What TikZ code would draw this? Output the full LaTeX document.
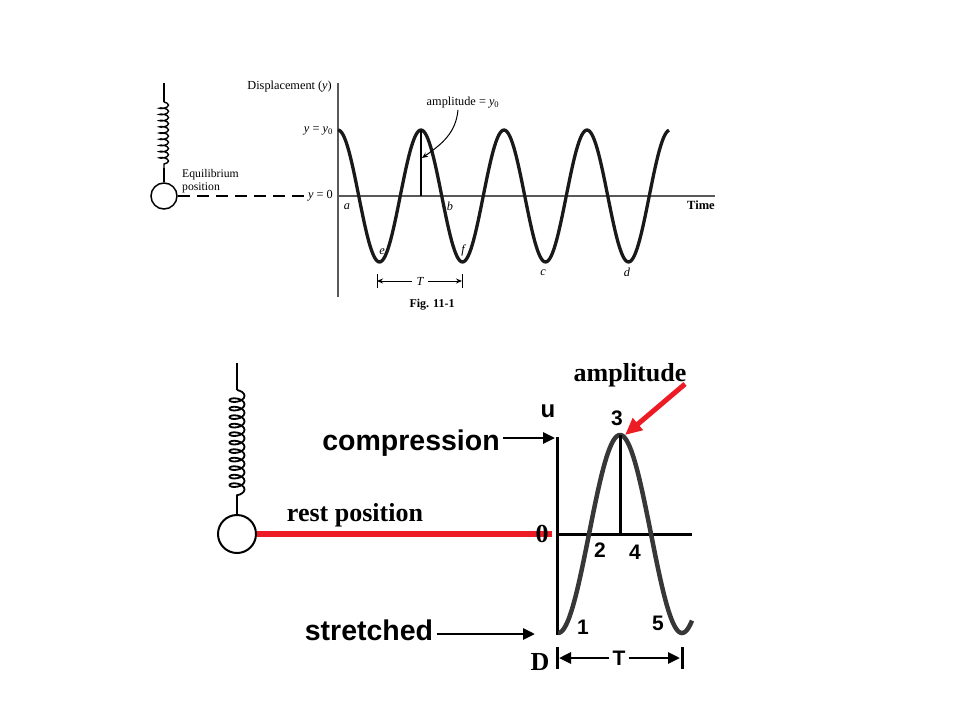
\documentclass[tikz,border=0pt]{standalone}
\usepackage{fontspec}
\setmainfont{Liberation Serif}
\setsansfont{Liberation Sans}
\usetikzlibrary{arrows.meta,decorations.pathmorphing}
\definecolor{restred}{RGB}{237,28,36}
\definecolor{wavegray}{RGB}{55,55,55}
\tikzset{
  smalltext/.style={font=\fontsize{12.3}{13}\selectfont, inner sep=1pt},
  smallit/.style={font=\fontsize{12.3}{13}\selectfont\itshape, inner sep=1pt},
  smallbold/.style={font=\fontsize{12.5}{14}\selectfont\bfseries, inner sep=1pt},
  bigsans/.style={font=\fontsize{28.5}{32}\selectfont\sffamily\bfseries},
  numsans/.style={font=\fontsize{21}{24}\selectfont\sffamily\bfseries, inner sep=1pt},
  bigserif/.style={font=\fontsize{26}{30}\selectfont\bfseries, inner sep=1pt},
  blackarrow/.style={line width=2.8pt, -{Triangle[length=12pt,width=11pt]}},
  thinarrow/.style={line width=1pt, -{Stealth[length=6pt,width=5pt]}},
}
\begin{document}
\begin{tikzpicture}[x=1pt,y=-1pt]
    \useasboundingbox (0,0) rectangle (960,720);

    % upper figure
    \node[circle, draw, line width=1.5pt, minimum size=26pt, inner sep=0pt] (mass1) at (164,196) {};
    \coordinate (hook1) at (164,83);
    \coordinate (coil1a) at (164,102);
    \coordinate (coil1b) at (164,168);
    \draw[line width=1.5pt] (hook1) -- (coil1a);
    \draw[line width=1.4pt, decorate, decoration={coil, aspect=0.35, segment length=6.2pt, amplitude=4.5pt}] (coil1a) -- (coil1b);
    \draw[line width=1.5pt] (coil1b) -- (mass1.north);

    \node[smalltext, font=\fontsize{11.7}{12.5}\selectfont, anchor=west, align=left] (equil) at (181,181) {Equilibrium\\position};
    \node[smalltext, anchor=east] (disp) at (333,87) {Displacement (\textit{y})};
    \node[smalltext, anchor=east] (ytop) at (334,131) {\textit{y} = \textit{y}\textsubscript{0}};
    \node[smalltext, anchor=east, inner sep=3pt] (yzero) at (336,196) {\textit{y} = 0};
    \draw[line width=1.3pt, dash pattern=on 12pt off 7pt] (mass1.east) -- (yzero.west);

    \coordinate (o1) at (338,196);
    \coordinate (ytop1) at (338,83);
    \coordinate (ybot1) at (338,297);
    \coordinate (tend1) at (715,196);
    \draw[line width=1.6pt, black!65] (ytop1) -- (ybot1);
    \draw[line width=1.6pt, black!65] (o1) -- (tend1);
    \node[smallbold] (time) at (701,205) {Time};

    \draw[line width=3.3pt, black!90] plot[domain=338:669, samples=240] (\x,{196-66*cos(4.3373*(\x-338))});

    \coordinate (peak1) at (421,130);
    \coordinate (foot1) at (421,196);
    \draw[line width=1.3pt] (foot1) -- (peak1);
    \node[smalltext] (amp1) at (463,103) {amplitude = \textit{y}\textsubscript{0}};
    \coordinate (amptip1) at (422,158);
    \draw[thinarrow] ([xshift=-5pt]amp1.south) to[out=-95,in=35] (amptip1);

    \node[smallit] (pa) at (347,207) {a};
    \node[smallit] (pb) at (450,206) {b};
    \node[smallit] (pe) at (382,252) {e};
    \node[smallit] (pf) at (463,250) {f};
    \node[smallit] (pc) at (543,273) {c};
    \node[smallit] (pd) at (627,272) {d};

    \coordinate (T1l) at (377,281);
    \coordinate (T1r) at (462,281);
    \draw[line width=1pt] ([yshift=-7pt]T1l) -- ([yshift=7pt]T1l);
    \draw[line width=1pt] ([yshift=-7pt]T1r) -- ([yshift=7pt]T1r);
    \node[smallit, inner sep=4pt] (T1) at (420,281) {T};
    \draw[thinarrow] (T1) -- (T1l);
    \draw[thinarrow] (T1) -- (T1r);
    \node[smallbold, font=\fontsize{12}{14}\selectfont\bfseries] (fig) at (432,305) {Fig. 11-1};

    % lower figure
    \node[circle, draw, line width=2pt, minimum size=38pt, inner sep=0pt] (mass2) at (237,534) {};
    \coordinate (hook2) at (237,363);
    \coordinate (coil2a) at (237,390);
    \coordinate (coil2b) at (237,497);
    \draw[line width=2pt] (hook2) -- (coil2a);
    \draw[line width=1.8pt, decorate, decoration={coil, aspect=0.5, segment length=8.5pt, amplitude=7.5pt}] (coil2a) -- (coil2b);
    \draw[line width=2pt] (coil2b) -- (mass2.north);

    \coordinate (restend) at (552,534);
    \draw[restred, line width=5.5pt] (mass2.east) -- (restend);
    \node[bigserif] (rest) at (355,515) {rest position};
    \node[bigserif] (zero) at (542,534) {0};

    \coordinate (o2) at (557,534);
    \coordinate (utop) at (557,437);
    \coordinate (ubot) at (557,635);
    \coordinate (tend2) at (692,534);
    \draw[line width=3pt] (utop) -- (ubot);
    \draw[line width=3pt] (o2) -- (tend2);

    \draw[wavegray, line width=4.5pt] plot[domain=558:692, samples=160] (\x,{534+99*cos(2.9032*(\x-558))});

    \coordinate (peak2) at (620,435);
    \coordinate (foot2) at (620,534);
    \draw[line width=3pt] (foot2) -- (peak2);

    \node[numsans, font=\fontsize{24}{26}\selectfont\sffamily\bfseries] (u) at (548,411) {u};
    \node[numsans] (n3) at (617,418) {3};
    \node[numsans] (n2) at (600,550) {2};
    \node[numsans] (n4) at (635,552) {4};
    \node[numsans] (n1) at (583,627) {1};
    \node[numsans] (n5) at (658,623) {5};

    \node[bigserif] (amp2) at (630,375) {amplitude};
    \coordinate (amptail) at (685,384);
    \coordinate (amptip2) at (625,435);
    \draw[restred, line width=5pt, -{Triangle[length=17pt,width=15pt]}] (amptail) -- (amptip2);

    \node[bigsans] (comp) at (411,443) {compression};
    \coordinate (comptip) at (555,438);
    \draw[blackarrow] (comp.east |- comptip) -- (comptip);

    \node[bigsans] (str) at (369,630) {stretched};
    \coordinate (strtip) at (535,634);
    \draw[blackarrow] (str.east |- strtip) -- (strtip);

    \node[bigserif] (D) at (540,662) {D};
    \coordinate (T2l) at (557,658);
    \coordinate (T2r) at (682,658);
    \draw[line width=3pt] ([yshift=-11pt]T2l) -- ([yshift=11pt]T2l);
    \draw[line width=3pt] ([yshift=-11pt]T2r) -- ([yshift=11pt]T2r);
    \node[numsans, inner sep=3pt] (T2) at (619,658) {T};
    \draw[blackarrow] (T2) -- ([xshift=2pt]T2l);
    \draw[blackarrow] (T2) -- ([xshift=-2pt]T2r);
\end{tikzpicture}
\end{document}
